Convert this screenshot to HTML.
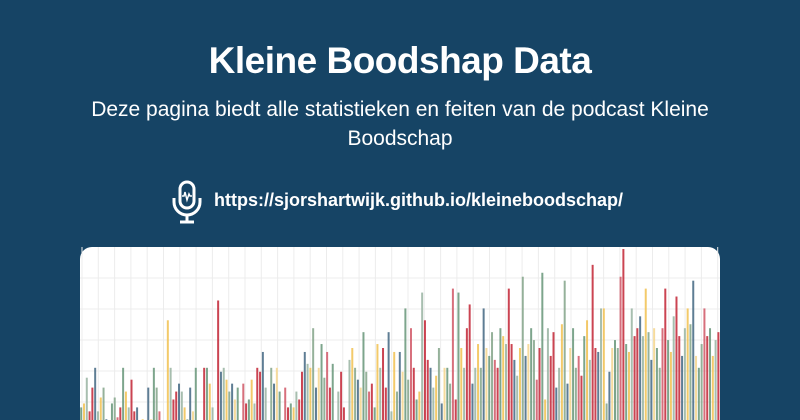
<!DOCTYPE html>
<html><head><meta charset="utf-8"><style>
body{margin:0;width:800px;height:420px;overflow:hidden;background:#164465;font-family:"Liberation Sans",sans-serif;color:#fff;position:relative}
h1{position:absolute;top:40px;left:0;width:800px;text-align:center;margin:0;font-size:37px;font-weight:bold;letter-spacing:-0.5px}
.sub{position:absolute;top:95px;left:80px;width:640px;text-align:center;font-size:21px;line-height:29px}
.url{position:absolute;top:190px;left:214px;font-size:18px;font-weight:bold}
#chart{position:absolute;left:80px;top:247px;display:block}
</style></head><body>
<h1>Kleine Boodshap Data</h1>
<div class="sub">Deze pagina biedt alle statistieken en feiten van de podcast Kleine Boodschap</div>
<svg style="position:absolute;left:170px;top:180px" width="34" height="44" viewBox="0 0 34 44">
<rect x="10" y="2" width="14" height="26" rx="7" fill="none" stroke="#fff" stroke-width="3"/>
<path d="M4 18v4a13 13 0 0 0 26 0v-4" fill="none" stroke="#fff" stroke-width="3"/>
<path d="M17 35v6M10 42h14" stroke="#fff" stroke-width="3"/>
<path d="M12 16h2l1-4 2 8 2-6 1 2h2" fill="none" stroke="#fff" stroke-width="1.5"/>
</svg>
<a class="url">https://sjorshartwijk.github.io/kleineboodschap/</a>
<svg id="chart" width="640" height="173"></svg>
<script>
const values=[20,22,35,18,30,40,18,25,30,14,10,22,25,15,20,40,28,20,34,18,20,10,14,10,30,14,40,30,18,10,12,64,40,24,28,32,28,20,14,30,18,40,12,10,40,40,32,20,10,74,38,40,34,28,32,24,30,10,32,22,24,34,22,40,38,48,30,10,40,32,40,28,8,30,20,22,20,28,24,38,48,42,40,60,30,40,52,35,48,30,42,10,28,38,20,10,44,50,40,34,30,58,38,28,32,20,52,40,50,30,58,18,48,28,48,38,70,34,60,40,24,28,78,64,44,40,30,36,50,22,40,40,32,80,24,78,50,40,60,72,32,40,52,40,70,50,46,58,44,40,60,56,52,80,52,44,36,50,86,46,52,60,54,34,50,88,24,60,46,58,30,40,62,84,32,50,60,40,46,36,56,64,44,92,50,48,70,70,22,38,50,54,50,86,100,52,48,70,56,60,66,56,80,58,44,60,50,40,60,80,54,48,66,76,56,46,60,70,62,84,46,40,52,70,56,60,46,54,58];
const colors=["#6f9b7f","#f2c45a","#c5303f","#f5d792","#9db7a6","#d35f6e","#4d6f88","#f2c45a","#8aa98f","#c5303f"];
const svg=document.getElementById('chart'),NS="http://www.w3.org/2000/svg";
const W=640,H=173,base=200,top0=2;
const y=v=>base-(v/100)*(base-top0);
const bw=W/values.length;
const bg=document.createElementNS(NS,'path');
bg.setAttribute('d','M0 173V12A12 12 0 0 1 12 0H628A12 12 0 0 1 640 12V173Z');bg.setAttribute('fill','#fff');


svg.appendChild(bg);
for(let x=2;x<W;x+=16.3){const l=document.createElementNS(NS,'line');l.setAttribute('x1',x);l.setAttribute('x2',x);l.setAttribute('y1',0);l.setAttribute('y2',H);l.setAttribute('stroke','#ececec');


svg.appendChild(l);}
for(let yy=31;yy<H;yy+=31){const l=document.createElementNS(NS,'line');l.setAttribute('x1',0);l.setAttribute('x2',W);l.setAttribute('y1',yy);l.setAttribute('y2',yy);l.setAttribute('stroke','#ececec');


svg.appendChild(l);}
values.forEach((v,i)=>{const r=document.createElementNS(NS,'rect');r.setAttribute('x',i*bw+0.2);r.setAttribute('width',Math.max(1.5,bw-0.8));r.setAttribute('y',y(v));r.setAttribute('height',Math.max(0,H-y(v)));r.setAttribute('fill',colors[(i*7+Math.floor(i/3))%colors.length]);r.setAttribute('opacity',0.9);


svg.appendChild(r);});
</script>
</body></html>
